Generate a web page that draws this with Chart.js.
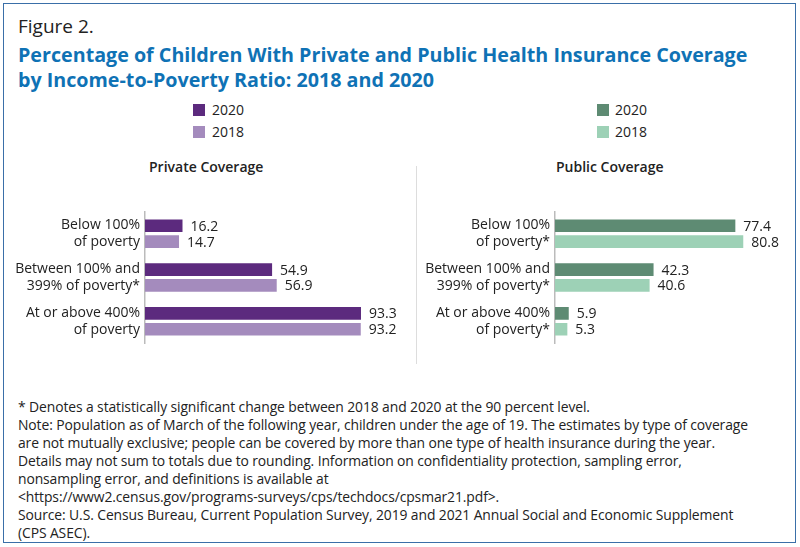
<!DOCTYPE html>
<html><head><meta charset="utf-8">
<script src="https://cdn.jsdelivr.net/npm/chart.js@4"></script>
<style>
body{margin:0;width:800px;height:547px;position:relative;background:#fff;font-family:"Open Sans",sans-serif;color:#222;overflow:hidden}
.frame{position:absolute;left:3px;top:3px;width:791px;height:538px;border:1.5px solid #3a6fa8}
.abs{position:absolute;white-space:nowrap}
.sq{position:absolute;width:12px;height:12px}
.lg{font-size:14px}
.sec{font-size:14px;font-weight:600;color:#222}
.note{font-size:13.9px;line-height:18px;left:18px;top:398px;color:#222;letter-spacing:-0.1px}
.box{position:absolute}
</style></head><body>
<div class="frame"></div>
<div class="abs" style="left:18px;top:13px;font-size:19px">Figure 2.</div>
<div class="abs" style="left:18px;top:42px;font-size:19.7px;font-weight:bold;color:#0f72b5;line-height:25px">Percentage of Children With Private and Public Health Insurance Coverage<br>by Income-to-Poverty Ratio: 2018 and 2020</div>
<div class="sq" style="left:193px;top:104px;background:#5c2a7e"></div><div class="abs lg" style="left:212px;top:100px">2020</div>
<div class="sq" style="left:193px;top:126px;background:#a48bbd"></div><div class="abs lg" style="left:212px;top:122px">2018</div>
<div class="sq" style="left:597px;top:104px;background:#5e8b73"></div><div class="abs lg" style="left:615px;top:100px">2020</div>
<div class="sq" style="left:597px;top:126px;background:#9dd1b6"></div><div class="abs lg" style="left:615px;top:122px">2018</div>
<div class="abs sec" style="left:149px;top:157px">Private Coverage</div>
<div class="abs sec" style="left:556px;top:157px">Public Coverage</div>
<div class="abs" style="left:416px;top:166px;width:1px;height:198px;background:#ddd"></div>
<div class="box" style="left:0;top:190px;width:400px;height:175px"><canvas id="c1"></canvas></div>
<div class="box" style="left:410px;top:190px;width:390px;height:175px"><canvas id="c2"></canvas></div>
<div class="abs note">* Denotes a statistically significant change between 2018 and 2020 at the 90 percent level.<br>Note: Population as of March of the following year, children under the age of 19. The estimates by type of coverage<br>are not mutually exclusive; people can be covered by more than one type of health insurance during the year.<br>Details may not sum to totals due to rounding. Information on confidentiality protection, sampling error,<br>nonsampling error, and definitions is available at<br>&lt;https://www2.census.gov/programs-surveys/cps/techdocs/cpsmar21.pdf&gt;.<br>Source: U.S. Census Bureau, Current Population Survey, 2019 and 2021 Annual Social and Economic Supplement<br>(CPS ASEC).</div>
<script>
const privateCategories=[["Below 100%","of poverty"],["Between 100% and","399% of poverty*"],["At or above 400%","of poverty"]];
const publicCategories=[["Below 100%","of poverty*"],["Between 100% and","399% of poverty*"],["At or above 400%","of poverty*"]];
const private2020=[16.2,54.9,93.3];
const private2018=[14.7,56.9,93.2];
const public2020=[77.4,42.3,5.9];
const public2018=[80.8,40.6,5.3];

const valueLabels={id:'vl',afterDatasetsDraw(ch){const ctx=ch.ctx;ctx.save();ctx.font='14px "Open Sans"';ctx.fillStyle='#222';ctx.textBaseline='middle';
ch.data.datasets.forEach((ds,i)=>{ch.getDatasetMeta(i).data.forEach((el,j)=>{ctx.fillText(ds.data[j].toFixed(1),el.x+8,el.y+1);});});ctx.restore();}};

function make(id,cats,d20,d18,c20,c18,padR){
 new Chart(document.getElementById(id),{type:'bar',
  data:{labels:cats,datasets:[{data:d20,backgroundColor:c20},{data:d18,backgroundColor:c18}]},
  options:{indexAxis:'y',responsive:true,maintainAspectRatio:false,animation:false,
   layout:{padding:{top:2,bottom:3,right:padR,left:0}},
   categoryPercentage:0.72,barPercentage:0.8,
   plugins:{legend:{display:false},tooltip:{enabled:false}},
   scales:{x:{display:false,min:0,max:100},
    y:{afterFit(s){s.width=145;},grid:{display:false,drawTicks:false},border:{color:'#bbb',width:1.5},
     ticks:{color:'#222',font:{size:14,family:'"Open Sans"'},padding:5}}}},
  plugins:[valueLabels]});
}
make('c1',privateCategories,private2020,private2018,'#5c2a7e','#a48bbd',23.5);
make('c2',publicCategories,public2020,public2018,'#5e8b73','#9dd1b6',12);
</script>
</body></html>
